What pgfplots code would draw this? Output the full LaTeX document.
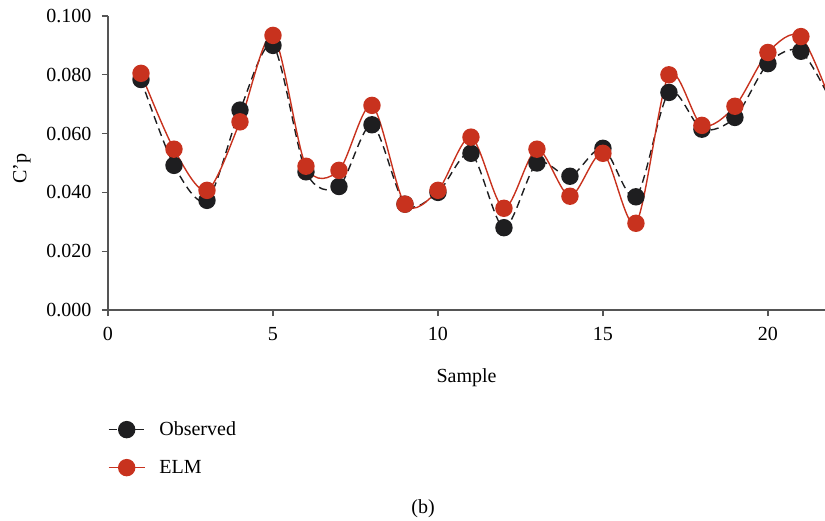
\documentclass[border=0pt]{standalone}
\usepackage{pgfplots}
\pgfplotsset{compat=1.18}
\usepackage{fontspec}
\setmainfont{Liberation Serif}
\definecolor{obs}{RGB}{30,30,32}
\definecolor{elm}{RGB}{200,50,30}
\definecolor{axgray}{RGB}{85,85,85}
\begin{document}
\begin{tikzpicture}[font=\fontsize{20}{24}\selectfont]
\useasboundingbox (-108pt,-210pt) rectangle (717pt,310pt);
\begin{axis}[
  scale only axis,
  width=717pt, height=294pt,
  xmin=0, xmax=21.73, ymin=0, ymax=0.1,
  axis x line*=bottom, axis y line*=left,
  axis line style={axgray, line width=1.2pt},
  every tick/.style={axgray, line width=1.2pt},
  tick align=outside, major tick length=6pt,
  xtick={0,5,10,15,20},
  ytick={0,0.02,0.04,0.06,0.08,0.1},
  /pgf/number format/assume math mode=true,
  yticklabel style={/pgf/number format/fixed, /pgf/number format/precision=3, /pgf/number format/fixed zerofill},
  scaled y ticks=false,
  xticklabel style={yshift=-8pt},
  yticklabel style={xshift=-7pt},
  xlabel={Sample},
  xlabel style={at={(axis description cs:0.5,0)}, anchor=center, yshift=-68pt},
  ylabel={C'p},
  ylabel style={at={(axis description cs:-0.12,0.48)}, anchor=center, rotate=0},
  legend cell align=left,
  legend style={at={(axis description cs:0,-0.374)}, anchor=north west, draw=none, fill=none,
    inner sep=0pt, outer sep=0pt, row sep=19pt, font=\fontsize{20}{24}\selectfont,
    /tikz/every odd column/.append style={column sep=12pt}},
  legend image code/.code={\draw[mark repeat=2,mark phase=2,#1] plot coordinates {(0pt,0pt) (18pt,0pt) (36pt,0pt)};},
  clip mode=global,
]
\addplot[obs, line width=1.4pt, dash pattern=on 8pt off 5pt, smooth, mark=*, mark size=8pt,
  mark options={solid, fill=obs, draw=obs}] coordinates {
(1,0.0784) (2,0.0492) (3,0.0373) (4,0.0680) (5,0.0900) (6,0.0470) (7,0.0420)
(8,0.0630) (9,0.0360) (10,0.0400) (11,0.0533) (12,0.0280) (13,0.0500) (14,0.0455)
(15,0.0550) (16,0.0385) (17,0.0740) (18,0.0615) (19,0.0655) (20,0.0838) (21,0.0880)
(22,0.0690)};
\addlegendentry{Observed}
\addplot[elm, line width=1.4pt, smooth, mark=*, mark size=8pt,
  mark options={solid, fill=elm, draw=elm}] coordinates {
(1,0.0805) (2,0.0547) (3,0.0407) (4,0.0640) (5,0.0934) (6,0.0489) (7,0.0475)
(8,0.0696) (9,0.0360) (10,0.0407) (11,0.0588) (12,0.0346) (13,0.0547) (14,0.0387)
(15,0.0533) (16,0.0295) (17,0.0800) (18,0.0628) (19,0.0693) (20,0.0876) (21,0.0930)
(22,0.0680)};
\addlegendentry{ELM}
\end{axis}
\node at (315pt,-199pt) {(b)};
\end{tikzpicture}
\end{document}
